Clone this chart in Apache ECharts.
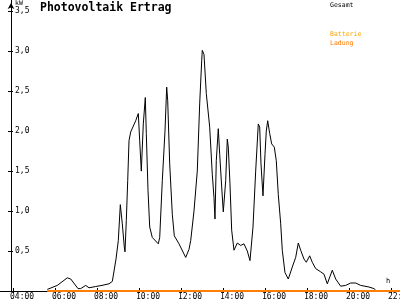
<!DOCTYPE html>
<html><head><meta charset="utf-8">
<script src="https://cdn.jsdelivr.net/npm/echarts@6/dist/echarts.min.js"></script>
<style>html,body{margin:0;padding:0;background:#fff}#c{width:400px;height:300px}</style>
</head><body><div id="c"></div>
<script>
// ---- data (hours of day, kW) ----
const gesamtTimes = [5.633, 6.110, 6.586, 6.748, 7.095, 7.224, 7.462, 7.619, 7.938, 8.238, 8.571, 8.729, 8.905, 9.014, 9.110, 9.205, 9.300, 9.333, 9.395, 9.462, 9.524, 9.605, 9.843, 9.967, 10.033, 10.110, 10.205, 10.300, 10.348, 10.429, 10.510, 10.633, 10.919, 10.986, 11.110, 11.238, 11.319, 11.367, 11.462, 11.586, 11.681, 11.905, 12.224, 12.381, 12.462, 12.619, 12.776, 12.890, 12.986, 13.014, 13.095, 13.205, 13.367, 13.490, 13.571, 13.619, 13.681, 13.776, 13.843, 13.938, 14.014, 14.129, 14.205, 14.252, 14.333, 14.414, 14.524, 14.681, 14.843, 15.000, 15.157, 15.286, 15.429, 15.557, 15.681, 15.748, 15.810, 15.905, 16.000, 16.062, 16.129, 16.224, 16.319, 16.443, 16.538, 16.633, 16.748, 16.824, 16.952, 17.110, 17.300, 17.462, 17.586, 17.700, 17.857, 17.967, 18.129, 18.252, 18.414, 18.652, 18.810, 18.967, 19.205, 19.367, 19.605, 19.843, 20.081, 20.319, 20.557, 20.952, 21.190, 21.271];
const gesamtValues = [0.02, 0.07, 0.165, 0.15, 0.03, 0.03, 0.07, 0.04, 0.056, 0.07, 0.09, 0.12, 0.40, 0.63, 1.08, 0.84, 0.55, 0.49, 0.88, 1.38, 1.88, 1.99, 2.13, 2.22, 1.88, 1.50, 2.09, 2.42, 1.97, 1.26, 0.80, 0.67, 0.59, 0.67, 1.38, 2.00, 2.55, 2.38, 1.59, 0.96, 0.69, 0.59, 0.42, 0.52, 0.63, 1.00, 1.50, 2.34, 2.88, 3.01, 2.96, 2.47, 2.05, 1.46, 1.17, 0.90, 1.63, 2.03, 1.71, 1.30, 0.99, 1.38, 1.90, 1.80, 1.34, 0.76, 0.51, 0.60, 0.57, 0.59, 0.50, 0.38, 0.80, 1.50, 2.09, 2.05, 1.59, 1.19, 1.71, 2.00, 2.13, 1.97, 1.84, 1.80, 1.63, 1.21, 0.84, 0.51, 0.23, 0.15, 0.30, 0.42, 0.60, 0.51, 0.40, 0.36, 0.44, 0.36, 0.28, 0.24, 0.21, 0.09, 0.26, 0.15, 0.06, 0.07, 0.10, 0.10, 0.07, 0.05, 0.03, 0.01];
const ladungTimes = [5.633, 22.43];
const ladungValues = [0, 0];
const xTickHours = [4, 6, 8, 10, 12, 14, 16, 18, 20, 22];
const yTickValues = [0.5, 1, 1.5, 2, 2.5, 3, 3.5];
const seriesNames = ['Gesamt', 'Batterie Ladung'];
const titleText = 'Photovoltaik Ertrag';
const yUnit = 'kW';
const xUnit = 'h';

// ---- layout ----
const MONO = "'DejaVu Sans Mono', 'Liberation Mono', monospace";
const X_MIN = 3.38, X_MAX = 22.43;
const LABEL_SHIFT = 0.43;
const Y_MAX = 3.64;

const chart = echarts.init(document.getElementById('c'), null, {renderer: 'canvas'});
const fmtHour = v => String(Math.round(v)).padStart(2, '0') + ':00';
const fmtKW = v => v.toFixed(1).replace('.', ',');

const option = {
  animation: false,
  backgroundColor: '#ffffff',
  title: {
    text: titleText, left: 40, top: 2, padding: 0,
    textStyle: {fontFamily: MONO, fontWeight: 'bold', fontSize: 11.5, color: '#000'}
  },
  legend: [
    {
      data: [{name: seriesNames[0]}], left: 325, top: 1.5, padding: 0,
      icon: 'none', itemWidth: 0, itemHeight: 0, selectedMode: false,
      textStyle: {fontFamily: MONO, fontSize: 6.5, color: '#000'}
    },
    {
      data: [{name: seriesNames[1]}], left: 325, top: 31, padding: 0,
      icon: 'none', itemWidth: 0, itemHeight: 0, selectedMode: false,
      formatter: () => '{a|Batterie}\n{b|Ladung}',
      textStyle: {
        fontFamily: MONO, fontSize: 6.5,
        rich: {
          a: {color: '#FFA500', fontFamily: MONO, fontSize: 6.5, lineHeight: 9},
          b: {color: '#FF7A00', fontFamily: MONO, fontSize: 6.5, lineHeight: 9}
        }
      }
    }
  ],
  grid: {left: 0, right: 0, top: 0, bottom: 9, containLabel: false, outerBoundsMode: 'none'},
  xAxis: [
    {
      type: 'value', min: X_MIN, max: X_MAX, position: 'bottom',
      axisLine: {show: true, onZero: false, lineStyle: {color: '#000', width: 1}},
      axisTick: {show: true, inside: true, length: 3, customValues: xTickHours, lineStyle: {color: '#000'}},
      axisLabel: {show: false}, splitLine: {show: false},
      name: xUnit, nameLocation: 'end', nameGap: -14,
      nameTextStyle: {fontFamily: MONO, fontSize: 7, color: '#000', verticalAlign: 'bottom', padding: [0, 0, 6, 0]}
    },
    {
      type: 'value', min: X_MIN - LABEL_SHIFT, max: 22, position: 'bottom',
      axisLine: {show: false}, axisTick: {show: false}, splitLine: {show: false},
      axisLabel: {show: true, customValues: xTickHours, formatter: fmtHour, margin: 2,
        fontFamily: MONO, fontSize: 8, color: '#000', showMinLabel: true, showMaxLabel: true, hideOverlap: false}
    },
    {
      type: 'value', min: X_MIN, max: X_MAX, position: 'bottom',
      axisLine: {show: false}, splitLine: {show: false}, axisLabel: {show: false},
      axisTick: {show: true, inside: false, length: 2, customValues: xTickHours, lineStyle: {color: '#000'}}
    }
  ],
  yAxis: [
    {
      type: 'value', min: 0, max: Y_MAX, position: 'left', offset: -11,
      axisLine: {show: true, symbol: ['none', 'arrow'], symbolSize: [5, 6], symbolOffset: [0, -3],
        lineStyle: {color: '#000', width: 1}},
      axisTick: {show: true, inside: false, length: 3, customValues: yTickValues, lineStyle: {color: '#000'}},
      axisLabel: {show: true, inside: true, margin: 4, customValues: yTickValues, formatter: fmtKW,
        fontFamily: MONO, fontSize: 8, color: '#000'},
      splitLine: {show: false},
      name: yUnit, nameLocation: 'end', nameGap: -8,
      nameTextStyle: {fontFamily: MONO, fontSize: 6.5, color: '#000', align: 'left', padding: [0, 0, 0, 4]}
    },
    {
      type: 'value', min: 0, max: Y_MAX, position: 'left', offset: -11,
      axisLine: {show: false}, splitLine: {show: false}, axisLabel: {show: false},
      axisTick: {show: true, inside: true, length: 2, customValues: yTickValues, lineStyle: {color: '#000'}}
    }
  ],
  series: [
    {
      name: seriesNames[0], type: 'line', xAxisIndex: 0, yAxisIndex: 0,
      data: gesamtTimes.map((t, i) => [t, gesamtValues[i]]),
      symbol: 'none', showSymbol: false, clip: false, z: 3,
      lineStyle: {color: '#000', width: 1}, itemStyle: {color: '#000'}
    },
    {
      name: seriesNames[1], type: 'line', xAxisIndex: 0, yAxisIndex: 0,
      data: ladungTimes.map((t, i) => [t, ladungValues[i]]),
      symbol: 'none', showSymbol: false, clip: false, z: 4,
      lineStyle: {color: '#FF8000', width: 2}, itemStyle: {color: '#FF8000'}
    }
  ]
};
chart.setOption(option);
</script>
</body></html>
